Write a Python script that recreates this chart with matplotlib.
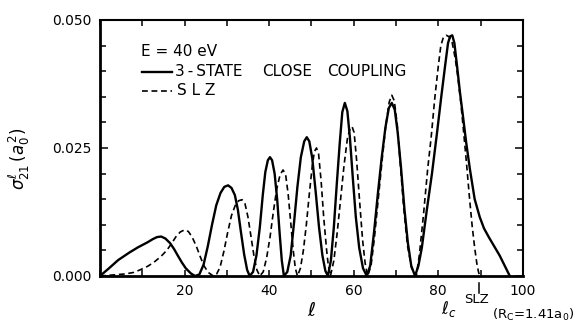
import matplotlib
matplotlib.use('Agg')
import numpy as np
import matplotlib.pyplot as plt
from matplotlib.ticker import MultipleLocator

# 3-state close coupling (solid)
l_cc = [0, 2, 4.3, 7, 9, 11.3, 12.5, 13.5, 14.5, 15.5, 16.6, 17.5, 18.4, 19.4, 20.3, 21.5, 22.5,
        23.5, 24.5, 25.5, 26.5, 27.5, 28.5, 29.4, 30.3, 31.1, 31.9, 32.6, 33.3, 34.1, 34.8, 35.4,
        36.2, 37.0, 37.8, 38.5, 39.1, 39.7, 40.2, 40.7, 41.3, 41.9, 42.5, 43.0, 43.5,
        44.3, 45.1, 45.9, 46.7, 47.5, 48.3, 48.9, 49.5, 50.2, 51.0, 51.8, 52.6, 53.3, 53.9,
        54.6, 55.3, 56.0, 56.7, 57.3, 57.9, 58.5, 59.1, 59.8, 60.5, 61.3, 62.2, 63.1,
        63.9, 64.8, 65.7, 66.6, 67.5, 68.3, 69.0, 69.7, 70.4, 71.2, 72.0, 72.8, 73.6, 74.5,
        75.3, 76.1, 77.3, 78.5, 79.7, 80.7, 81.6, 82.3, 82.8, 83.3, 83.8, 84.5, 85.1,
        85.8, 86.6, 87.5, 88.6, 89.8, 90.8, 92.0, 94.5, 96.9]
s_cc = [0, 0.0014, 0.0031, 0.0046, 0.0056, 0.0066, 0.0072, 0.0076, 0.0077, 0.0073, 0.0064, 0.0053, 0.0040, 0.0026, 0.0015, 0.0005, 0.0,
        0.0003, 0.0022, 0.0058, 0.0100, 0.0138, 0.0162, 0.0174, 0.0177, 0.0172, 0.0158, 0.0130, 0.0088, 0.0042, 0.0012, 0.0,
        0.0008, 0.0040, 0.0095, 0.0158, 0.0203, 0.0226, 0.0232, 0.0226, 0.0200, 0.0150, 0.0082, 0.0030, 0.0,
        0.0008, 0.0040, 0.0105, 0.0175, 0.0232, 0.0263, 0.0271, 0.0263, 0.0230, 0.0165, 0.0095, 0.0040, 0.0010, 0.0,
        0.0030, 0.0095, 0.0180, 0.0260, 0.0320, 0.0338, 0.0322, 0.0270, 0.0190, 0.0115, 0.0055, 0.0015, 0.0,
        0.0020, 0.0085, 0.0160, 0.0230, 0.0290, 0.0328, 0.0338, 0.0325, 0.0280, 0.0210, 0.0130, 0.0065, 0.0020, 0.0,
        0.0020, 0.0055, 0.0130, 0.0200, 0.0280, 0.0350, 0.0410, 0.0455, 0.0468, 0.0470, 0.0455, 0.0405, 0.0360,
        0.0314, 0.0260, 0.0207, 0.0150, 0.0115, 0.0093, 0.0075, 0.0040, 0.0]

# SLZ (dashed)
l_slz = [0, 3, 6, 8, 9.5, 11.3, 12.8, 14.4, 15.8, 16.9, 18.0, 19.0, 20.0, 20.9, 21.8, 22.8, 23.7, 24.6, 25.6, 26.8,
         27.6, 28.4, 29.3, 30.2, 31.1, 32.0, 32.8, 33.6, 34.3, 35.0, 35.7, 36.4, 37.1, 37.8,
         38.6, 39.4, 40.2, 41.0, 41.8, 42.6, 43.3, 43.9, 44.5, 45.1, 45.7, 46.2, 46.7,
         47.4, 48.1, 48.8, 49.5, 50.2, 50.7, 51.2, 51.7, 52.3, 52.9, 53.6, 54.0, 54.5,
         55.3, 56.1, 56.9, 57.7, 58.5, 59.1, 59.6, 60.1, 60.7, 61.4, 62.1, 62.7, 63.3,
         64.1, 64.9, 65.8, 66.7, 67.6, 68.4, 69.0, 69.6, 70.3, 71.0, 71.8, 72.7, 73.7, 74.8,
         75.5, 76.5, 77.5, 78.3, 79.2, 80.0, 80.6, 81.2, 81.9, 82.6, 83.3, 84.0, 84.6, 85.3,
         86.0, 86.7, 87.4, 88.0, 88.6, 89.1, 89.5, 89.8]
s_slz = [0, 0.0002, 0.0004, 0.0007, 0.0012, 0.0019, 0.0027, 0.0038, 0.0050, 0.0063, 0.0077, 0.0086, 0.0090, 0.0087, 0.0076, 0.0058, 0.0038, 0.0020, 0.0007, 0.0,
         0.0004, 0.0017, 0.0048, 0.0085, 0.0118, 0.0138, 0.0147, 0.0149, 0.0141, 0.0115, 0.0078, 0.0040, 0.0012, 0.0,
         0.0008, 0.0035, 0.0075, 0.0125, 0.0170, 0.0198, 0.0207, 0.0198, 0.0160, 0.0105, 0.0050, 0.0015, 0.0,
         0.0015, 0.0050, 0.0100, 0.0160, 0.0215, 0.0243, 0.0250, 0.0238, 0.0185, 0.0115, 0.0050, 0.0020, 0.0,
         0.0030, 0.0085, 0.0150, 0.0215, 0.0268, 0.0287, 0.0292, 0.0280, 0.0225, 0.0145, 0.0070, 0.0025, 0.0,
         0.0020, 0.0075, 0.0150, 0.0225, 0.0295, 0.0340, 0.0353, 0.0342, 0.0295, 0.0220, 0.0135, 0.0060, 0.0015, 0.0,
         0.0040, 0.0120, 0.0210, 0.0270, 0.0350, 0.0410, 0.0450, 0.0466, 0.0470, 0.0467, 0.0455, 0.0425, 0.0390, 0.0340,
         0.0280, 0.0217, 0.0150, 0.0098, 0.0055, 0.0025, 0.0008, 0.0]

l_c_slz = 89.6
x_ticks = [20, 40, 60, 80, 100]
y_ticks = [0.0, 0.025, 0.050]

plt.rcParams['font.family'] = 'DejaVu Sans'
fig = plt.figure(figsize=(5.81, 3.27), dpi=100)
ax = fig.add_axes([0.172, 0.156, 0.728, 0.783])

ax.plot(l_cc, s_cc, 'k-', lw=1.7, solid_joinstyle='round')
ax.plot(l_slz, s_slz, 'k--', lw=1.2, dashes=(3.5, 2.2))

ax.set_xlim(0, 100)
ax.set_ylim(0, 0.05)
ax.set_xticks(x_ticks)
ax.set_yticks(y_ticks)
ax.set_yticklabels(['%.3f' % v for v in y_ticks])
ax.xaxis.set_minor_locator(MultipleLocator(10))
ax.yaxis.set_minor_locator(MultipleLocator(0.005))
ax.tick_params(which='both', direction='in', top=True, right=True,
               labelsize=10, pad=6, width=1.1, length=4)
ax.tick_params(axis='y', which='major', length=6)
for s in ax.spines.values():
    s.set_linewidth(1.5)
ax.spines['left'].set_linewidth(2.0)
ax.spines['bottom'].set_linewidth(2.0)

ax.set_ylabel(r'$\sigma_{21}^{\ell}\,(a_0^{\,2})$', fontsize=12)
ax.yaxis.set_label_coords(-0.16, 0.46)
ax.set_xlabel(r'$\ell$', fontsize=14, labelpad=2)

# legend drawn by hand
fs = 11
ax.text(0.097, 0.875, 'E = 40 eV', transform=ax.transAxes, fontsize=fs, va='center')
ax.plot([0.099, 0.17], [0.797, 0.797], 'k-', lw=1.7, transform=ax.transAxes)
ax.text(0.177, 0.797, '3\u2009-\u2009STATE', transform=ax.transAxes, fontsize=fs, va='center')
ax.text(0.383, 0.797, 'CLOSE', transform=ax.transAxes, fontsize=fs, va='center')
ax.text(0.537, 0.797, 'COUPLING', transform=ax.transAxes, fontsize=fs, va='center')
ax.plot([0.099, 0.17], [0.723, 0.723], 'k--', lw=1.2, dashes=(3.5, 2.2),
        transform=ax.transAxes)
ax.text(0.183, 0.723, 'S L Z', transform=ax.transAxes, fontsize=fs, va='center')

# l_c SLZ marker below the axis
ax.plot([l_c_slz, l_c_slz], [-0.028, -0.065], 'k-', lw=1.1,
        transform=ax.get_xaxis_transform(), clip_on=False)
fig.text(0.772, 0.055, r'$\ell_c$', fontsize=12, ha='center', va='center')
fig.text(0.798, 0.085, 'SLZ', fontsize=9.5, ha='left', va='center')
fig.text(0.846, 0.038, r'(R$_\mathrm{C}$=1.41a$_0$)', fontsize=9.5, ha='left', va='center')

fig.savefig('out.png', dpi=100)
